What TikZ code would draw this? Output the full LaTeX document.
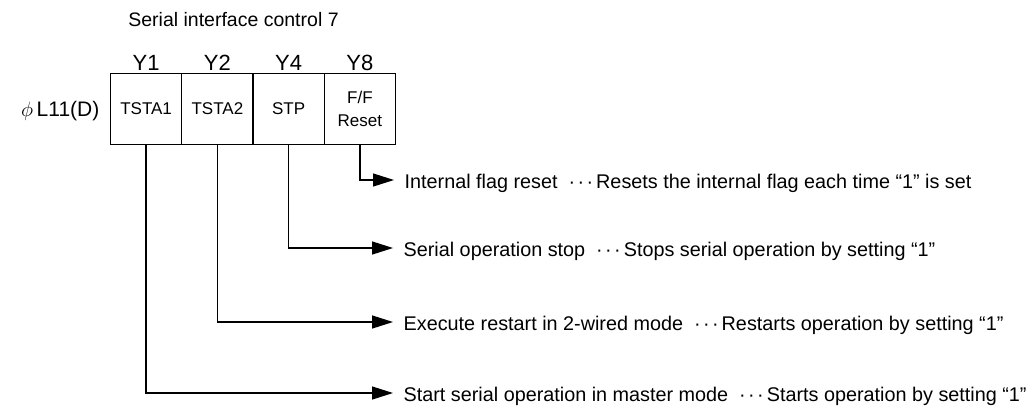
\documentclass[tikz,border=0pt]{standalone}
\usepackage{fontspec}
\setmainfont{Liberation Sans}
\usepackage{tikz}
\usetikzlibrary{arrows.meta}

\newcommand{\dotsep}{\hspace{11pt}·\kern2.4pt·\kern2.4pt·\kern3pt}

\begin{document}
\begin{tikzpicture}[x=1pt,y=-1pt,line width=1.3pt,
    cell/.style={draw,minimum width=71.25pt,minimum height=71pt,inner sep=0pt,
      align=center,font=\fontsize{17}{23}\selectfont},
    bitname/.style={anchor=base,inner sep=0pt,font=\fontsize{22}{24}\selectfont},
    desc/.style={anchor=west,inner sep=0pt,text height=16pt,text depth=0pt,
      font=\fontsize{19.8}{22}\selectfont},
    flow/.style={-{Triangle[length=21pt,width=13pt]},shorten >=10pt}]
      \useasboundingbox (0,0) rectangle (1036,410);

      % 1. 標題與暫存器名稱
      \node[anchor=base,inner sep=0pt,font=\fontsize{19.5}{22}\selectfont] (title) at (233.5,26) {Serial interface control 7};
      \node[anchor=base east,inner sep=0pt,font=\fontsize{21}{24}\selectfont] (reg) at (100,116.5) {$\phi$\,L11(D)};

      % 2. 四個位元格
      \node[cell] (tstaA) at (146.1,108.7) {TSTA1};
      \node[cell] (tstaB) at (217.4,108.7) {TSTA2};
      \node[cell] (stp) at (288.6,108.7) {STP};
      \node[cell] (ffreset) at (359.9,108.7) {F/F\\Reset};

      % 3. 位元編號
      \node[bitname] (yA) at (146.1,70) {Y1};
      \node[bitname] (yB) at (217.4,70) {Y2};
      \node[bitname] (yD) at (288.6,70) {Y4};
      \node[bitname] (yH) at (359.9,70) {Y8};

      % 4. 說明文字
      \node[desc] (descH) at (404,180) {Internal flag reset\dotsep Resets the internal flag each time “1” is set};
      \node[desc] (descD) at (403,248) {Serial operation stop\dotsep Stops serial operation by setting “1”};
      \node[desc] (descB) at (403,322) {Execute restart in 2-wired mode\dotsep Restarts operation by setting “1”};
      \node[desc] (descA) at (403,393) {Start serial operation in master mode\dotsep Starts operation by setting “1”};

      % 5. 連接線
      \draw[flow] (ffreset.south) |- (descH.west);
      \draw[flow] (stp.south) |- (descD.west);
      \draw[flow] (tstaB.south) |- (descB.west);
      \draw[flow] (tstaA.south) |- (descA.west);
    \end{tikzpicture}
\end{document}
